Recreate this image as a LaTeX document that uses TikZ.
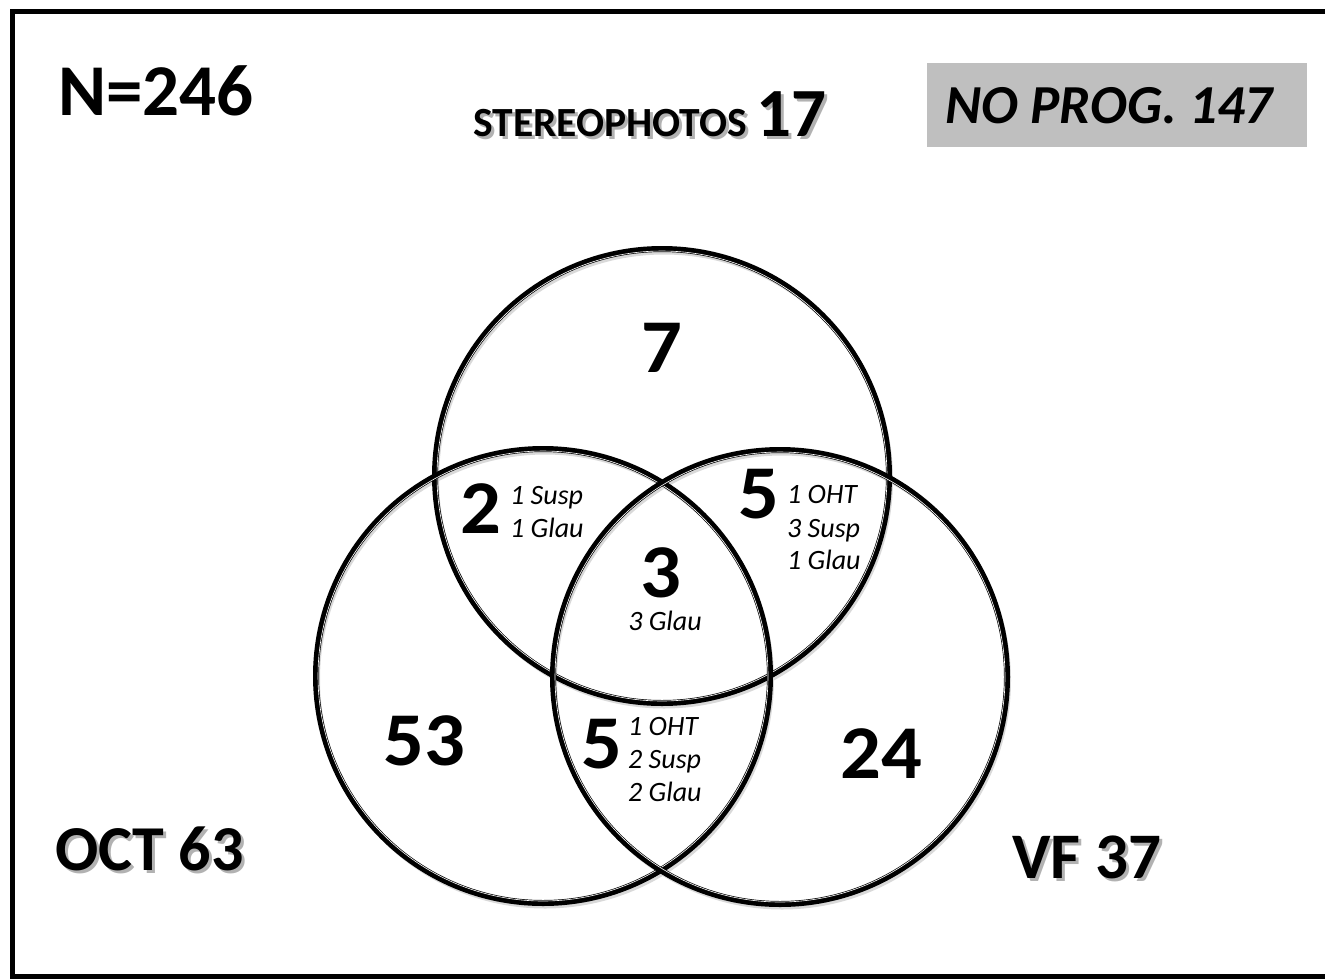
\documentclass[tikz,border=0pt]{standalone}
\usepackage{fontspec}
\setmainfont{Carlito}
\definecolor{boxgray}{RGB}{191,191,191}
\tikzset{
  ring/.style={draw=black, line width=6pt},
  ringgap/.style={draw=white, line width=0.6pt},
  ringshadow/.style={draw=black!15, line width=4pt},
  bignum/.style={font=\fontsize{76}{76}\selectfont\bfseries, inner sep=0pt, xscale=1.06},
  small/.style={font=\fontsize{28}{28}\selectfont\itshape, inner sep=0pt},
  head/.style={inner sep=0pt, text=black},
  shadowtxt/.style={inner sep=0pt, text=black!30},
}
\begin{document}
\begin{tikzpicture}[x=1pt,y=-1pt]
\useasboundingbox (0,0) rectangle (1325,978);
% frame
\draw[line width=5pt] (1400,11) -- (12.5,11) -- (12.5,976) -- (1400,976);
% circles
\coordinate (cT) at (662,476);
\coordinate (cL) at (543,676);
\coordinate (cR) at (780,677);
\foreach \c in {cT,cL,cR}{
  \draw[ringshadow] ([shift={(2,3.5)}]\c) circle[radius=227];
}
\foreach \c in {cT,cL,cR}{
  \draw[ring] (\c) circle[radius=227];
  \draw[ringgap] (\c) circle[radius=225];
}
% title
\node[head, anchor=base west, font=\fontsize{73}{73}\selectfont\bfseries] (N) at (58,115) {N=246};
% stereophotos
\node[shadowtxt, anchor=base west] (stS) at (476,139) {\bfseries\fontsize{41.5}{41.5}\selectfont STEREOPHOTOS \fontsize{69}{69}\selectfont 17};
\node[head, anchor=base west] (st) at (473,136) {\bfseries\fontsize{41.5}{41.5}\selectfont STEREOPHOTOS \fontsize{69}{69}\selectfont 17};
% no prog
\fill[boxgray] (927,63) rectangle (1307,147);
\node[head, anchor=base west, font=\fontsize{55}{55}\selectfont\bfseries\itshape] (np) at (945,123) {NO PROG. 147};
% OCT and VF
\node[shadowtxt, anchor=base west, font=\fontsize{64}{64}\selectfont\bfseries] (octS) at (58,873) {OCT 63};
\node[shadowtxt, anchor=base west, font=\fontsize{65}{65}\selectfont\bfseries] (vfS) at (1015,881) {VF 37};
\node[head, anchor=base west, font=\fontsize{64}{64}\selectfont\bfseries] (oct) at (55,870) {OCT 63};
\node[head, anchor=base west, font=\fontsize{65}{65}\selectfont\bfseries] (vf) at (1012,878) {VF 37};
% region numbers
\node[bignum, anchor=base] (n7) at (662,372) {7};
\node[bignum, anchor=base west] (n2) at (460,533) {2};
\node[small, anchor=base west] (n2a) at (510,504) {1 Susp};
\node[small, anchor=base west] (n2b) at (510,537) {1 Glau};
\node[bignum, anchor=base] (n3) at (661,597) {3};
\node[small, anchor=base] (n3a) at (665,630) {3 Glau};
\node[bignum, anchor=base west] (n5r) at (738,518) {5};
\node[small, anchor=base west] (n5ra) at (787,503) {1 OHT};
\node[small, anchor=base west] (n5rb) at (787,537) {3 Susp};
\node[small, anchor=base west] (n5rc) at (787,569) {1 Glau};
\node[bignum, anchor=base west] (n53) at (383,765) {53};
\node[bignum, anchor=base west] (n5b) at (581,768) {5};
\node[small, anchor=base west] (n5ba) at (628,735) {1 OHT};
\node[small, anchor=base west] (n5bb) at (628,768) {2 Susp};
\node[small, anchor=base west] (n5bc) at (628,801) {2 Glau};
\node[bignum, anchor=base west] (n24) at (840,778) {24};
\end{tikzpicture}
\end{document}
